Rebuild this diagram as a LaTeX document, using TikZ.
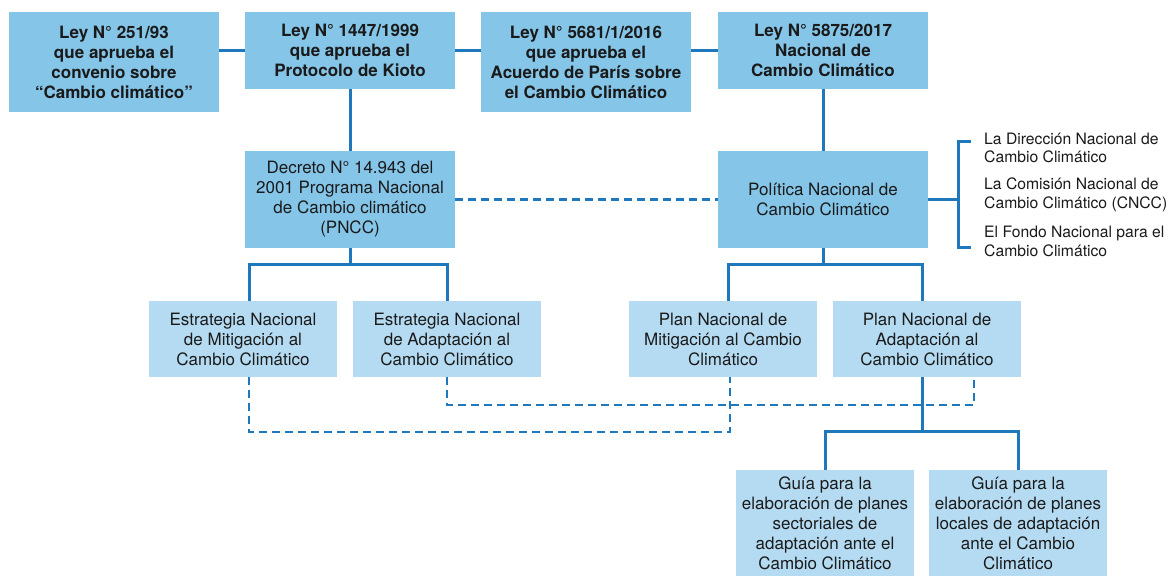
\documentclass[tikz,border=0pt]{standalone}
\usepackage{fontspec}
\setmainfont{TeX Gyre Heros}
\usepackage{xcolor}
\usepackage{tikz}
\definecolor{boxdark}{HTML}{85C5E8}
\definecolor{boxlight}{HTML}{B5DBF2}
\definecolor{linkblue}{HTML}{1F77BC}
\definecolor{inktext}{HTML}{1A1A1A}

\begin{document}
\begin{tikzpicture}[x=1pt,y=-1pt,
  law node/.style={fill=boxdark,text=inktext,inner sep=0pt,align=center,minimum width=210pt,font=\fontsize{17}{20}\selectfont\bfseries},
  main node/.style={fill=boxdark,text=inktext,inner sep=0pt,align=center,minimum width=210pt,minimum height=97pt,font=\fontsize{17}{20}\selectfont},
  sub node/.style={fill=boxlight,text=inktext,inner sep=0pt,align=center,minimum width=188pt,minimum height=76pt,font=\fontsize{17}{20}\selectfont},
  guide node/.style={fill=boxlight,text=inktext,inner sep=0pt,align=center,minimum width=178pt,minimum height=106pt,font=\fontsize{17}{20}\selectfont},
  org node/.style={text=inktext,inner sep=0pt,align=left,anchor=west,font=\fontsize{15.7}{18.5}\selectfont},
  link/.style={draw=linkblue,line width=3pt},
  dash link/.style={draw=linkblue,line width=2.5pt,dash pattern=on 8pt off 5pt}]
  \useasboundingbox (0,0) rectangle (1174,576);
  % leyes
  \node[law node,minimum height=100pt] (ley251) at (114,62) {Ley N° 251/93\\que aprueba el\\convenio sobre\\“Cambio climático”};
  \node[law node,minimum height=77pt] (ley1447) at (350,50.5) {Ley N° 1447/1999\\que aprueba el\\Protocolo de Kioto};
  \node[law node,minimum height=100pt] (ley5681) at (586,62) {Ley N° 5681/1/2016\\que aprueba el\\Acuerdo de París sobre\\el Cambio Climático};
  \node[law node,minimum height=77pt] (ley5875) at (823,50.5) {Ley N° 5875/2017\\Nacional de\\Cambio Climático};
  % decreto y politica
  \node[main node] (decreto) at (350,199.5) {Decreto N° 14.943 del\\2001 Programa Nacional\\de Cambio climático\\(PNCC)};
  \node[main node] (politica) at (823,199.5) {Política Nacional de\\Cambio Climático};
  % estrategias y planes
  \node[sub node] (estM) at (243,339) {Estrategia Nacional\\de Mitigación al\\Cambio Climático};
  \node[sub node] (estA) at (447,339) {Estrategia Nacional\\de Adaptación al\\Cambio Climático};
  \node[sub node] (planM) at (723,339) {Plan Nacional de\\Mitigación al Cambio\\Climático};
  \node[sub node] (planA) at (927,339) {Plan Nacional de\\Adaptación al\\Cambio Climático};
  % guias
  \node[guide node] (guia1) at (825,523) {Guía para la\\elaboración de planes\\sectoriales de\\adaptación ante el\\Cambio Climático};
  \node[guide node] (guia2) at (1018,523) {Guía para la\\elaboración de planes\\locales de adaptación\\ante el Cambio\\Climático};
  % organos
  \node[org node] (org1) at (984,148) {La Dirección Nacional de\\Cambio Climático};
  \node[org node] (org2) at (984,195) {La Comisión Nacional de\\Cambio Climático (CNCC)};
  \node[org node] (org3) at (984,241.5) {El Fondo Nacional para el\\Cambio Climático};
  \path[link]
    (ley251.east |- ley1447) edge (ley1447.west)
    (ley1447.east) edge (ley5681.west |- ley1447)
    (ley5681.east |- ley5875) edge (ley5875.west)
    (ley1447.south) edge (decreto.north)
    (ley5875.south) edge (politica.north);
  \draw[dash link] (decreto.east) -- (politica.west);
  % ramas
  \draw[link] (decreto.south) -- ++(0,17);
  \draw[link] ([xshift=6pt]estM.north) -- ++(0,-36) -| (estA.north);
  \draw[link] (politica.south) -- ++(0,17);
  \draw[link] ([xshift=5pt]planM.north) -- ++(0,-36) -| ([xshift=-5pt]planA.north);
  \draw[link] ([xshift=-5pt]planA.south) -- ++(0,55);
  \draw[link] (guia1.north) -- ++(0,-38) -| (guia2.north);
  % vinculos punteados
  \draw[dash link] ([xshift=6pt]estM.south) -- ++(0,55) -| ([xshift=7pt]planM.south);
  \draw[dash link] (estA.south) -- ++(0,28) -| ([xshift=47pt]planA.south);
  % llave de organos
  \coordinate (brtop) at (971,141);
  \coordinate (brbot) at (971,247);
  \draw[link] (politica.east) -- ++(30,0) coordinate (br);
  \draw[link] (brtop) -| (br) |- (brbot);
\end{tikzpicture}
\end{document}
